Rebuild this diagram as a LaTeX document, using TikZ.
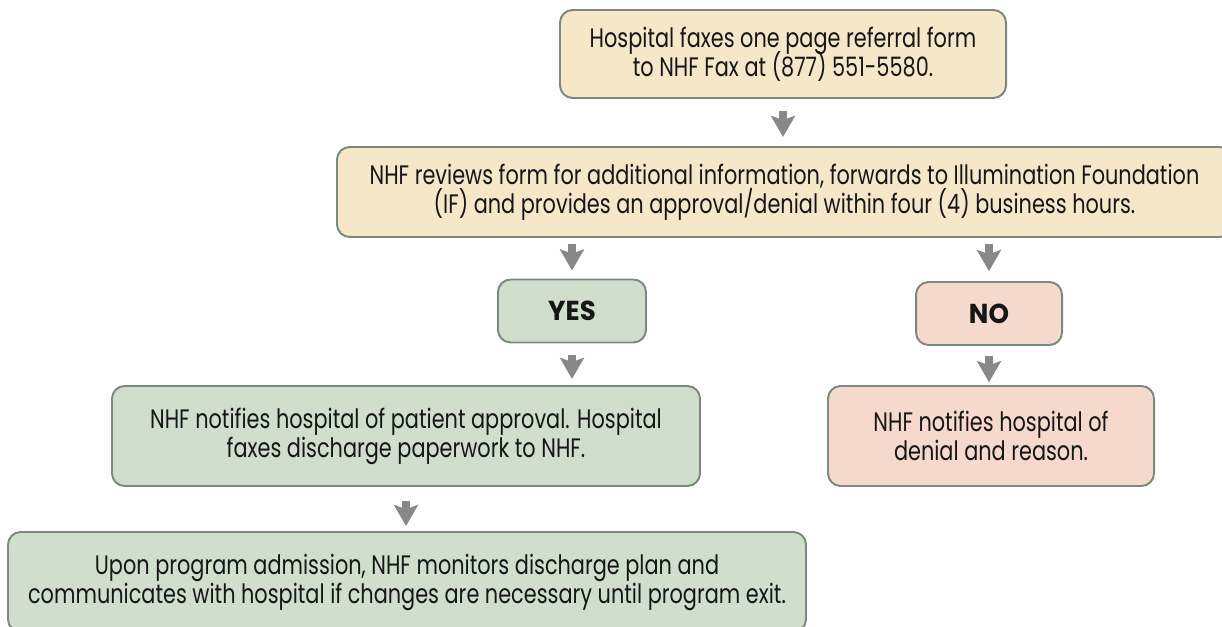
\documentclass[tikz,border=0pt]{standalone}
\usepackage{fontspec}
\setmainfont[FakeStretch=0.78, BoldFeatures={FakeStretch=0.95}]{Poppins}
\usepackage{xcolor}
\usetikzlibrary{calc}
\usetikzlibrary{arrows.meta}

\definecolor{sand}{RGB}{247,231,201}
\definecolor{sage}{RGB}{208,222,204}
\definecolor{blush}{RGB}{244,217,204}
\definecolor{rim}{RGB}{122,138,126}
\definecolor{pointer}{RGB}{136,136,136}
\definecolor{ink}{RGB}{22,22,22}

\newcommand{\stepfont}{\fontsize{19}{20.6}\selectfont\lineskiplimit -100pt\relax}

\tikzset{
	stepbox/.style={draw=rim, line width=1.4pt, rounded corners=9pt, align=center,
		inner sep=0pt, text=ink, font=\stepfont},
	answer/.style={stepbox, font=\fontsize{19.5}{22}\selectfont\bfseries},
	flow/.style={pointer, line width=5.5pt, -{Stealth[width=17pt,length=15pt,inset=3pt]}},
}

\begin{document}
\begin{tikzpicture}
			\useasboundingbox (0,0) rectangle (30.55,15.65);
			\node[stepbox, fill=sand, minimum width=11.15cm, minimum height=2.2cm] (hosp) at (19.575,14.3) {Hospital faxes one page referral form\\to NHF Fax at (877) 551-5580.};
			\node[stepbox, fill=sand, minimum width=22.375cm, minimum height=2.25cm] (review) at (19.6125,10.85) {NHF reviews form for additional information, forwards to Illumination Foundation\\(IF) and provides an approval/denial within four (4) business hours.};
			\node[answer, fill=sage, minimum width=3.7cm, minimum height=1.575cm] (yes) at (14.3,7.875) {YES};
			\node[answer, fill=blush, minimum width=3.65cm, minimum height=1.575cm] (no) at (24.725,7.8125) {NO};
			\node[stepbox, fill=sage, minimum width=14.7cm, minimum height=2.5cm] (approve) at (10.15,4.75) {NHF notifies hospital of patient approval. Hospital\\faxes discharge paperwork to NHF.};
			\node[stepbox, fill=blush, minimum width=8.15cm, minimum height=2.5cm] (deny) at (24.775,4.75) {NHF notifies hospital of\\denial and reason.};
			\node[stepbox, fill=sage, minimum width=19.95cm, minimum height=2.5cm] (admit) at (10.175,1.1) {Upon program admission, NHF monitors discharge plan and\\communicates with hospital if changes are necessary until program exit.};
			
			\draw[flow, shorten <=8.5pt, shorten >=6.4pt] (hosp.south) -- (review.north -| hosp.south);
			\draw[flow, shorten <=4.3pt, shorten >=5.7pt] (review.south -| yes.north) -- (yes.north);
			\draw[flow, shorten <=4.3pt, shorten >=7pt] (review.south -| no.north) -- (no.north);
			\draw[flow, shorten <=8.5pt, shorten >=4.3pt] (yes.south) -- (approve.north -| yes.south);
			\draw[flow, shorten <=7pt, shorten >=2pt] (no.south) -- (deny.north -| no.south);
			\draw[flow, shorten <=10pt, shorten >=3.5pt] (approve.south) -- (admit.north -| approve.south);
		\end{tikzpicture}
\end{document}
